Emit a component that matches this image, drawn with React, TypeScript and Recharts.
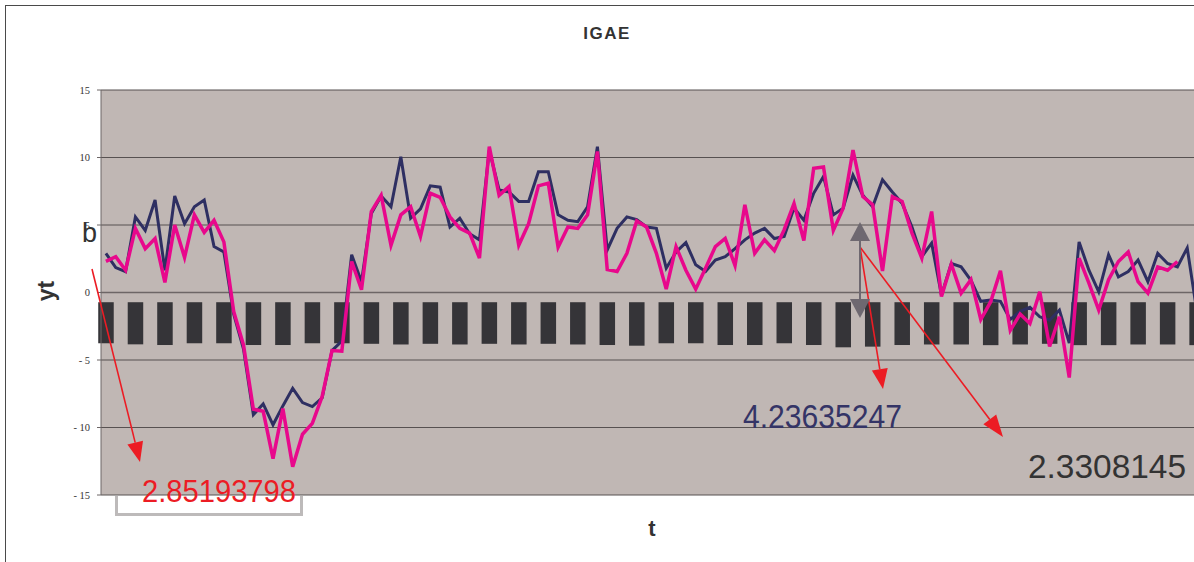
import React from "react";
import { Bar, CartesianGrid, ComposedChart, Line, ReferenceLine, XAxis, YAxis } from "recharts";

// IGAE cycle: dark series and pink series, one value per period
const navySeries = [
  2.9, 1.85, 1.55, 5.6, 4.6, 6.85, 1.65, 7.15, 5.1, 6.35, 6.85, 3.4, 3.0, -1.6, -4.2,
  -9.05, -8.25, -9.8, -8.4, -7.1, -8.15, -8.45, -7.8, -4.3, -3.6, 2.8, 0.8, 5.85, 7.15, 6.35,
  10.05, 5.5, 6.2, 7.9, 7.8, 4.85, 5.5, 4.35, 3.9, 10.55, 7.6, 7.45, 6.75, 6.75, 8.95,
  8.95, 5.75, 5.35, 5.25, 6.35, 10.8, 3.15, 4.75, 5.6, 5.4, 4.85, 4.75, 1.8, 3.0, 3.7,
  2.05, 1.55, 2.4, 2.65, 3.25, 3.9, 4.4, 4.75, 4.0, 4.15, 6.25, 5.35, 7.35, 8.6, 5.75,
  6.25, 8.7, 7.2, 6.35, 8.35, 7.45, 6.6, 4.85, 2.65, 3.65, -0.2, 2.15, 1.9, 0.9, -0.65,
  -0.55, -0.65, -2.0, -1.4, -1.1, -1.8, -2.05, -1.3, -3.75, 3.75, 1.65, 0.05, 2.8, 1.15, 1.55,
  2.4, 0.8, 2.9, 2.15, 1.9, 3.3, -1.5
];

const magentaSeries = [
  2.3, 2.65, 1.65, 4.75, 3.25, 4.0, 0.75, 5.0, 2.6, 5.75, 4.45, 5.35, 3.75, -1.4, -3.9,
  -8.65, -8.8, -12.3, -8.6, -12.9, -10.5, -9.7, -7.7, -4.3, -4.35, 2.3, 0.2, 6.0, 7.2, 3.5,
  5.75, 6.35, 4.15, 7.35, 7.05, 5.6, 4.75, 4.4, 2.55, 10.8, 7.2, 7.85, 3.5, 5.1, 7.9,
  8.1, 3.35, 4.85, 4.75, 5.75, 10.45, 1.7, 1.55, 2.9, 5.3, 4.85, 2.9, 0.25, 3.4, 1.65,
  0.25, 1.8, 3.4, 4.0, 2.0, 6.5, 2.9, 3.9, 3.1, 4.65, 6.6, 3.85, 9.2, 9.3, 4.6,
  6.25, 10.55, 7.1, 6.5, 1.6, 7.1, 6.75, 4.4, 2.55, 6.0, -0.3, 2.1, -0.05, 0.95, -2.0,
  -0.7, 1.6, -2.8, -1.6, -2.3, 0.05, -4.0, -1.8, -6.3, 2.55, 0.7, -1.3, 0.95, 2.3, 3.0,
  0.8, -0.05, 1.9, 1.65, 2.3
];

// floating blocks below zero, one every third period
const barEvery = 3;
const barTop = -0.72;
const barBottoms = [
  -3.76, -3.84, -3.89, -3.76, -3.76, -3.89, -3.89, -3.76, -3.76, -3.8, -3.85, -3.8, -3.85,
  -3.8, -3.85, -3.8, -3.85, -3.89, -3.94, -3.76, -3.76, -3.89, -3.89, -3.76, -3.89, -4.06,
  -4.01, -3.89, -3.85, -3.85, -3.9, -3.85, -3.8, -3.9, -3.9, -3.85, -3.85, -3.9
];

const yTicks = [15, 10, 5, 0, -5, -10, -15];

const data = navySeries.map((v, i) => ({
  t: i + 1,
  navy: v,
  magenta: i < magentaSeries.length ? magentaSeries[i] : null,
  band: i % barEvery === 0 && barBottoms[i / barEvery] !== undefined ? [barTop, barBottoms[i / barEvery]] : null
}));

const PLOT_LEFT = 101;
const PLOT_TOP = 90;
const PLOT_BOTTOM = 495;
const BAND = 9.83;
const PLOT_RIGHT = PLOT_LEFT + BAND * data.length;
const CHART_W = Math.ceil(PLOT_RIGHT) + 8;
const CHART_H = 562;
const ZERO_Y = (PLOT_TOP + PLOT_BOTTOM) / 2;
const BAR_W = 15.5;

function WideBar(props: any) {
  const { x, y, width, height, payload } = props;
  if (!payload || !payload.band || !Number.isFinite(y) || !Number.isFinite(height)) return null;
  const cx = x + width / 2;
  const top = Math.min(y, y + height);
  return <rect x={cx - BAR_W / 2} y={top} width={BAR_W} height={Math.abs(height)} fill="#353438" />;
}

function ZeroTick(props: any) {
  const bx = props.x - BAND / 2;
  return <line x1={bx} x2={bx} y1={ZERO_Y} y2={ZERO_Y + 4} stroke="#6d6666" strokeWidth={1} />;
}

const fmt = (v: number) => (v < 0 ? `- ${Math.abs(v)}` : `${v}`);

export default function App() {
  return (
    <div style={{ position: "absolute", left: 0, top: 0, width: 1194, height: 562, overflow: "hidden", background: "#fff" }}>
      <div style={{ position: "absolute", left: 0, top: 0 }}>
        <ComposedChart
          width={CHART_W}
          height={CHART_H}
          data={data}
          margin={{ top: PLOT_TOP, right: CHART_W - PLOT_RIGHT, bottom: CHART_H - PLOT_BOTTOM, left: 0 }}
        >
          <CartesianGrid vertical={false} stroke="#575151" fill="#c0b7b4" />
          <XAxis dataKey="t" interval={0} height={0} axisLine={false} tickLine={false} tick={<ZeroTick />} />
          <YAxis
            width={PLOT_LEFT}
            domain={[-15, 15]}
            ticks={yTicks}
            interval={0}
            tickFormatter={fmt}
            stroke="#6d6666"
            tickSize={4}
            tickMargin={7}
            tick={{ fontFamily: "Liberation Serif, serif", fontSize: 10.5, fill: "#333" }}
          />
          <ReferenceLine y={0} stroke="#6d6666" strokeWidth={1.5} />
          <Line type="linear" dataKey="navy" stroke="#2e2f62" strokeWidth={3} dot={false} isAnimationActive={false} />
          <Line type="linear" dataKey="magenta" stroke="#e8088c" strokeWidth={3.5} dot={false} isAnimationActive={false} />
          <Bar dataKey="band" shape={<WideBar />} isAnimationActive={false} />
        </ComposedChart>
      </div>

      <svg width={1194} height={562} style={{ position: "absolute", left: 0, top: 0, pointerEvents: "none" }}>
        <line x1={5} y1={5.5} x2={1194} y2={5.5} stroke="#4a4a4a" />
        <line x1={5.5} y1={5} x2={5.5} y2={562} stroke="#4a4a4a" />
        <text x={607} y={39} textAnchor="middle" fontFamily="Liberation Sans, Arial, sans-serif" fontWeight="bold" fontSize={17} letterSpacing={1.5} fill="#333">
          IGAE
        </text>
        <text transform="translate(54,291) rotate(-90)" textAnchor="middle" fontFamily="Liberation Sans, Arial, sans-serif" fontWeight="bold" fontSize={23} fill="#333">
          yt
        </text>
        <text x={652} y={536} textAnchor="middle" fontFamily="Liberation Sans, Arial, sans-serif" fontWeight="bold" fontSize={22} fill="#333">
          t
        </text>
        <text x={82} y={241.5} fontFamily="Liberation Sans, Arial, sans-serif" fontSize={27} fill="#333">
          b
        </text>

        {/* note box under the plot */}
        <path d="M116.5,496 L116.5,514.5 L301.5,514.5 L301.5,496" fill="none" stroke="#bdbaba" strokeWidth={3} />
        <text x={142} y={502} textLength={154} lengthAdjust="spacingAndGlyphs" fontFamily="Liberation Sans, Arial, sans-serif" fontSize={31} fill="#ec1c24">
          2.85193798
        </text>
        <text x={743} y={427.5} textLength={159} lengthAdjust="spacingAndGlyphs" fontFamily="Liberation Sans, Arial, sans-serif" fontSize={33} fill="#343466">
          4.23635247
        </text>
        <text x={1028} y={478} textLength={158} lengthAdjust="spacingAndGlyphs" fontFamily="Liberation Sans, Arial, sans-serif" fontSize={34} fill="#333">
          2.3308145
        </text>

        {/* arrows */}
        <line x1={92} y1={269} x2={135.2} y2={442.6} stroke="#ec1c24" strokeWidth={1.6} />
        <polygon points="140,462 143,440.7 127.4,444.5" fill="#ec1c24" />
        <line x1={860} y1={247} x2={879.8} y2={369.3} stroke="#ec1c24" strokeWidth={1.6} />
        <polygon points="883,389 887.7,368 871.9,370.6" fill="#ec1c24" />
        <line x1={860} y1={247} x2={989.8} y2={419.4} stroke="#ec1c24" strokeWidth={1.6} />
        <polygon points="1003,437 996.2,414.6 983.4,424.2" fill="#ec1c24" />

        <line x1={860} y1={240} x2={860} y2={300} stroke="#6e6870" strokeWidth={2} />
        <polygon points="860,222 850,241 870,241" fill="#6e6870" />
        <polygon points="860,318 850,299 870,299" fill="#6e6870" />
      </svg>
    </div>
  );
}
